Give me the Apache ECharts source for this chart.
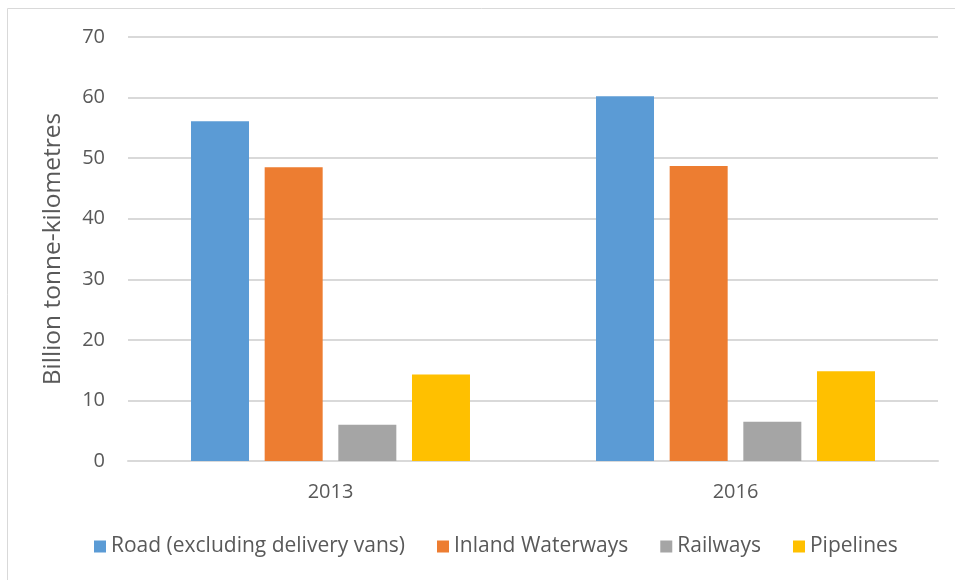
<!DOCTYPE html>
<html>
<head>
<meta charset="utf-8">
<script src="https://cdn.jsdelivr.net/npm/echarts@6/dist/echarts.min.js"></script>
<style>
  html, body { margin: 0; padding: 0; background: #fff; }
  #chart { width: 955px; height: 580px; }
</style>
</head>
<body>
<div id="chart"></div>
<script>
const years = ['2013', '2016']
const seriesNames = ['Road (excluding delivery vans)', 'Inland Waterways', 'Railways', 'Pipelines']
const road = [56.1, 60.2]
const inlandWaterways = [48.5, 48.7]
const railways = [6.0, 6.5]
const pipelines = [14.3, 14.8]
const colors = ['#5B9BD5', '#ED7D31', '#A5A5A5', '#FFC000']

const font = "'Open Sans', sans-serif"
const textColor = '#595959'

const myChart = echarts.init(document.getElementById('chart'))

const values = [road, inlandWaterways, railways, pipelines]

const option = {
  animation: false,
  color: colors,
  textStyle: { fontFamily: font },
  graphic: [
    {
      type: 'rect',
      shape: { x: 7.5, y: 8.5, width: 960, height: 600 },
      style: { fill: 'none', stroke: '#d9d9d9', lineWidth: 1 },
      silent: true
    }
  ],
  grid: {
    left: 128,
    right: 17,
    top: 37,
    bottom: 119
  },
  legend: {
    left: 89,
    top: 531,
    itemWidth: 12,
    itemHeight: 12,
    itemGap: 32,
    icon: 'rect',
    textStyle: { color: textColor, fontSize: 21, fontFamily: font },
    data: seriesNames
  },
  xAxis: {
    type: 'category',
    data: years,
    axisLine: { lineStyle: { color: '#d9d9d9', width: 2 } },
    axisTick: { show: false },
    axisLabel: { color: textColor, fontSize: 20, margin: 21 }
  },
  yAxis: {
    type: 'value',
    min: 0,
    max: 70,
    interval: 10,
    name: 'Billion tonne-kilometres',
    nameLocation: 'middle',
    nameGap: 62,
    nameRotate: 90,
    nameTextStyle: { color: textColor, fontSize: 24.5, fontFamily: font },
    axisLine: { show: false },
    axisTick: { show: false },
    axisLabel: { color: textColor, fontSize: 20, margin: 23 },
    splitLine: { lineStyle: { color: '#d9d9d9', width: 2 } }
  },
  series: seriesNames.map((name, i) => ({
    name: name,
    type: 'bar',
    barWidth: 58,
    barGap: '27%',
    data: values[i]
  }))
}

myChart.setOption(option)
</script>
</body>
</html>
